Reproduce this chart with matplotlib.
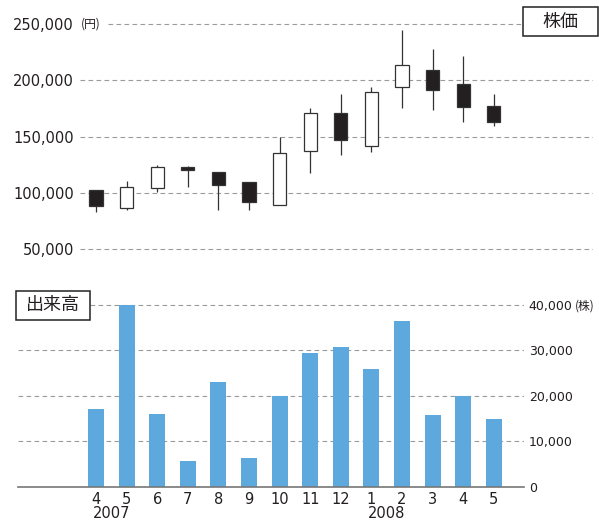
import matplotlib.pyplot as plt
import matplotlib.transforms as mtransforms
from matplotlib.patches import Rectangle

# monthly data, Apr 2007 - May 2008
months = ['4', '5', '6', '7', '8', '9', '10', '11', '12', '1', '2', '3', '4', '5']
years = ['2007', '2008']
year_pos = [0.5, 9.5]

price_open = [103000, 87000, 104000, 123000, 118500, 109500, 89000,
              137500, 171300, 141600, 194300, 209000, 196700, 176800]
price_close = [88500, 105500, 123000, 120300, 107500, 92000, 135800,
               171100, 147400, 189800, 213400, 191200, 176500, 163200]
price_high = [103000, 110700, 124500, 124300, 118500, 110000, 150000,
              175300, 188200, 194300, 244700, 227800, 221700, 188200]
price_low = [83100, 84900, 100600, 105500, 84900, 84900, 89000,
             117300, 133800, 136100, 175300, 173200, 162900, 159300]

volume = [17200, 40000, 15900, 5700, 23000, 6400, 19900,
          29400, 30700, 25900, 36500, 15700, 20000, 14800]

price_ticks = [50000, 100000, 150000, 200000, 250000]
volume_ticks = [0, 10000, 20000, 30000, 40000]

TEXT = '#231f20'
GRID = '#9a9a9a'
BAR = '#5da9de'
NUM_FONT = ['DejaVu Sans']
JP_FONT = ['Noto Sans CJK JP', 'DejaVu Sans']

W, H = 599, 520
fig = plt.figure(figsize=(W / 100, H / 100), dpi=100)


def px_box(left, top, right, bottom):
    return [left / W, 1 - bottom / H, (right - left) / W, (bottom - top) / H]


x = list(range(len(months)))

# ---- price (candlestick) ----
ax1 = fig.add_axes(px_box(80, 10, 593, 260))
ax1.set_xlim(-0.523, 16.24)
ax1.set_ylim(40500, 262400)
for s in ax1.spines.values():
    s.set_visible(False)
ax1.set_xticks([])
ax1.set_yticks(price_ticks)
ax1.set_yticklabels([f'{v:,}' for v in price_ticks], fontsize=10.5,
                    color=TEXT, family=NUM_FONT)
ax1.tick_params(axis='y', length=0, pad=4.5)
for v in price_ticks:
    xmin = 28 / 513 if v == 250000 else 0
    ax1.axhline(v, xmin=xmin, xmax=1, color=GRID, lw=0.8,
                dashes=(4.2, 3.0), zorder=0)
trans1 = mtransforms.blended_transform_factory(ax1.transAxes, ax1.transData)
ax1.text(1 / 513, 250000, '(円)', transform=trans1, ha='left', va='center',
         fontsize=8.5, color=TEXT, family=JP_FONT)

for i in x:
    o, c = price_open[i], price_close[i]
    up = c >= o
    ax1.vlines(i, price_low[i], price_high[i], color='#333333', lw=0.9, zorder=2)
    ax1.bar(i, abs(c - o), bottom=min(o, c), width=0.43,
            color='white' if up else TEXT, edgecolor='#333333',
            linewidth=0.9, zorder=3)

# ---- volume ----
ax2 = fig.add_axes(px_box(18, 300, 524, 486.7))
ax2.set_xlim(-2.549, 13.987)
ax2.set_ylim(0, 41100)
ax2.bar(x, volume, width=0.52, color=BAR, zorder=2)
for name in ['top', 'left', 'right']:
    ax2.spines[name].set_visible(False)
ax2.spines['bottom'].set_color('#777777')
ax2.spines['bottom'].set_linewidth(1.2)
ax2.spines['bottom'].set_zorder(4)
ax2.set_xticks(x)
ax2.set_xticklabels(months, fontsize=10.5, color=TEXT, family=NUM_FONT)
ax2.tick_params(axis='x', length=0, pad=3.5)
ax2.yaxis.tick_right()
ax2.set_yticks(volume_ticks)
ax2.set_yticklabels([f'{v:,}' for v in volume_ticks], fontsize=9,
                    color=TEXT, family=NUM_FONT)
ax2.tick_params(axis='y', length=0, pad=3.5)
for v in volume_ticks[1:]:
    ax2.axhline(v, color=GRID, lw=0.8, dashes=(4.2, 3.0), zorder=0)
trans2 = mtransforms.blended_transform_factory(ax2.transData, ax2.transAxes)
for yr, p in zip(years, year_pos):
    ax2.text(p, -0.141, yr, transform=trans2, ha='center', va='center',
             fontsize=10.5, color=TEXT, family=NUM_FONT)
fig.text(575 / W, 1 - 306 / H, '(株)', ha='left', va='center',
         fontsize=8.5, color=TEXT, family=JP_FONT)

# ---- label boxes ----
for (l, t, r, b), label in [((522.5, 7.5, 597.5, 36), '株価'),
                            ((15.5, 290.5, 90, 320), '出来高')]:
    fig.patches.append(Rectangle((l / W, 1 - b / H), (r - l) / W, (b - t) / H,
                                 transform=fig.transFigure, facecolor='white',
                                 edgecolor='#222222', lw=1.1, zorder=5))
    fig.text((l + r) / 2 / W, 1 - (t + b) / 2 / H, label, ha='center',
             va='center', fontsize=13, color=TEXT, family=JP_FONT, zorder=6)

fig.savefig('out.png', dpi=100)
